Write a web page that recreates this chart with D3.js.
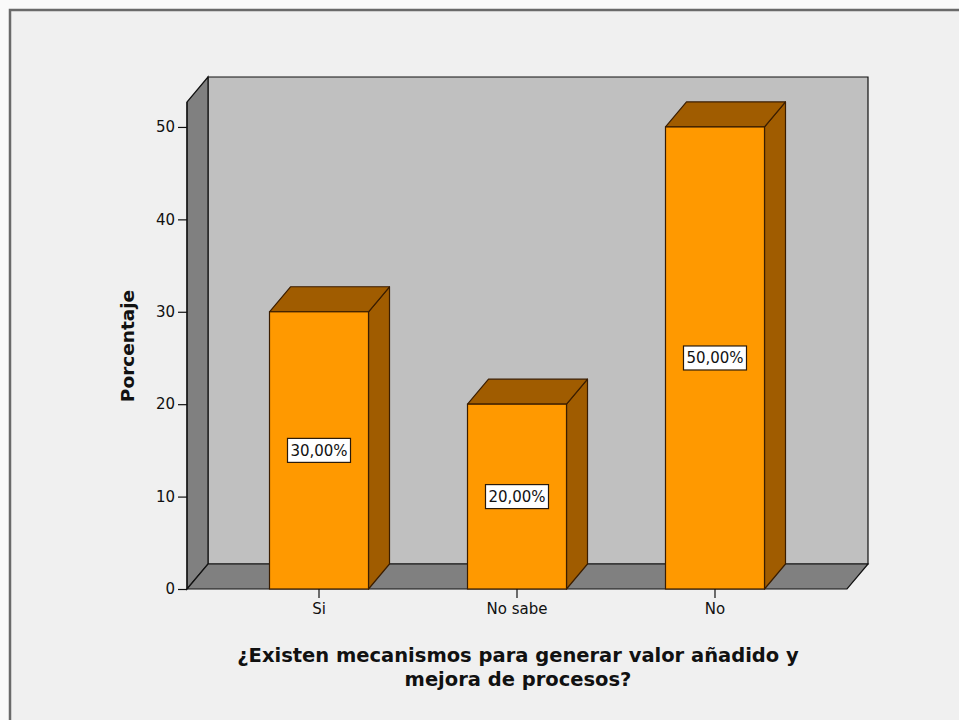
<!DOCTYPE html>
<html>
<head>
<meta charset="utf-8">
<script src="https://cdn.jsdelivr.net/npm/d3@7"></script>
<style>
  html, body { margin: 0; padding: 0; background: #fafafa; }
  svg { display: block; }
</style>
</head>
<body>
<svg id="chart" width="959" height="720"></svg>
<script>
// ---- data ----
const categories = ["Si", "No sabe", "No"];
const percentages = [30, 20, 50];
const yTicks = [0, 10, 20, 30, 40, 50];
const yAxisTitle = "Porcentaje";
const xAxisTitleLines = ["¿Existen mecanismos para generar valor añadido y", "mejora de procesos?"];
const yDomainMax = 52.7;

// ---- layout ----
const W = 959, H = 720;
const plot = { left: 187, right: 847, bottom: 589, top: 102 };
const depth = { dx: 21, dy: 25 };

const svg = d3.select("#chart");
const FONT = "'DejaVu Sans', 'Liberation Sans', Arial, sans-serif";

// outer panel
svg.append("rect").attr("x", 0).attr("y", 0).attr("width", W).attr("height", H).attr("fill", "#fafafa");
svg.append("rect").attr("x", 10).attr("y", 10).attr("width", W - 10).attr("height", H - 10).attr("fill", "#f0f0f0");
svg.append("path")
  .attr("d", `M10,${H} L10,10 L${W},10`)
  .attr("fill", "none").attr("stroke", "#6a6a6a").attr("stroke-width", 2.5);

const x = d3.scaleBand().domain(categories).range([plot.left, plot.right])
  .paddingInner(0.5).paddingOuter(0.4167);
const y = d3.scaleLinear().domain([0, yDomainMax]).range([plot.bottom, plot.top]);

const dx = depth.dx, dy = depth.dy;
const y0 = y(0), yTop = y(yDomainMax);
const L = plot.left, R = plot.right;

// back wall
svg.append("polygon")
  .attr("points", [[L + dx, yTop - dy], [R + dx, yTop - dy], [R + dx, y0 - dy], [L + dx, y0 - dy]].map(p => p.join(",")).join(" "))
  .attr("fill", "#c0c0c0").attr("stroke", "#111").attr("stroke-width", 1.2);
// side wall
svg.append("polygon")
  .attr("points", [[L, y0], [L, yTop], [L + dx, yTop - dy], [L + dx, y0 - dy]].map(p => p.join(",")).join(" "))
  .attr("fill", "#808080").attr("stroke", "#111").attr("stroke-width", 1.2);
// floor
svg.append("polygon")
  .attr("points", [[L, y0], [L + dx, y0 - dy], [R + dx, y0 - dy], [R, y0]].map(p => p.join(",")).join(" "))
  .attr("fill", "#808080").attr("stroke", "#111").attr("stroke-width", 1.2);

// bars
const data = categories.map((c, i) => ({ cat: c, v: percentages[i] }));
const bw = x.bandwidth();
const barG = svg.append("g");
data.forEach(d => {
  const x0 = x(d.cat), x1 = x0 + bw, yv = y(d.v);
  const g = barG.append("g");
  // side
  g.append("polygon")
    .attr("points", [[x1, yv], [x1 + dx, yv - dy], [x1 + dx, y0 - dy], [x1, y0]].map(p => p.join(",")).join(" "))
    .attr("fill", "#a05c00").attr("stroke", "#3a1d00").attr("stroke-width", 1.2).attr("stroke-linejoin", "round");
  // top
  g.append("polygon")
    .attr("points", [[x0, yv], [x0 + dx, yv - dy], [x1 + dx, yv - dy], [x1, yv]].map(p => p.join(",")).join(" "))
    .attr("fill", "#a05c00").attr("stroke", "#3a1d00").attr("stroke-width", 1.2).attr("stroke-linejoin", "round");
  // front
  g.append("rect")
    .attr("x", x0).attr("y", yv).attr("width", bw).attr("height", y0 - yv)
    .attr("fill", "#ff9900").attr("stroke", "#3a1d00").attr("stroke-width", 1.2);
});

// value labels
const esLocale = d3.formatLocale({ decimal: ",", thousands: ".", grouping: [3], currency: ["", "€"] });
const fmt = esLocale.format(".2f");
data.forEach(d => {
  const cx = x(d.cat) + bw / 2, cy = y(d.v / 2);
  const g = svg.append("g");
  g.append("rect").attr("x", cx - 31.5).attr("y", cy - 12).attr("width", 63).attr("height", 24)
    .attr("fill", "#ffffff").attr("stroke", "#2a1a0a").attr("stroke-width", 1.2);
  g.append("text").attr("x", cx).attr("y", cy + 5.5).attr("text-anchor", "middle")
    .attr("font-family", FONT).attr("font-size", 15).attr("fill", "#111")
    .text(fmt(d.v) + "%");
});

// y axis
const yAxisG = svg.append("g").attr("transform", `translate(${L},0)`)
  .call(d3.axisLeft(y).tickValues(yTicks).tickSize(9).tickPadding(3).tickFormat(d3.format("d")));
yAxisG.select(".domain").attr("stroke", "#111").attr("stroke-width", 1.2)
  .attr("d", `M0,${y0}V${yTop}`);
yAxisG.selectAll(".tick line").attr("stroke", "#111").attr("stroke-width", 1.2);
yAxisG.selectAll(".tick text").attr("font-family", FONT).attr("font-size", 15).attr("fill", "#111");

// x axis
const xAxisG = svg.append("g").attr("transform", `translate(0,${y0})`)
  .call(d3.axisBottom(x).tickSize(9).tickPadding(5));
xAxisG.select(".domain").remove();
xAxisG.selectAll(".tick line").attr("stroke", "#111").attr("stroke-width", 1.2);
xAxisG.selectAll(".tick text").attr("font-family", FONT).attr("font-size", 15).attr("fill", "#111");

// axis titles
svg.append("text")
  .attr("transform", `translate(134,346) rotate(-90)`)
  .attr("text-anchor", "middle")
  .attr("font-family", FONT).attr("font-size", 18.5).attr("font-weight", "bold").attr("fill", "#111")
  .text(yAxisTitle);

const titleCx = (L + R) / 2 + 1;
xAxisTitleLines.forEach((line, i) => {
  svg.append("text")
    .attr("x", titleCx).attr("y", 662 + i * 24)
    .attr("text-anchor", "middle")
    .attr("font-family", FONT).attr("font-size", 19.5).attr("font-weight", "bold").attr("fill", "#111")
    .text(line);
});
</script>
</body>
</html>
